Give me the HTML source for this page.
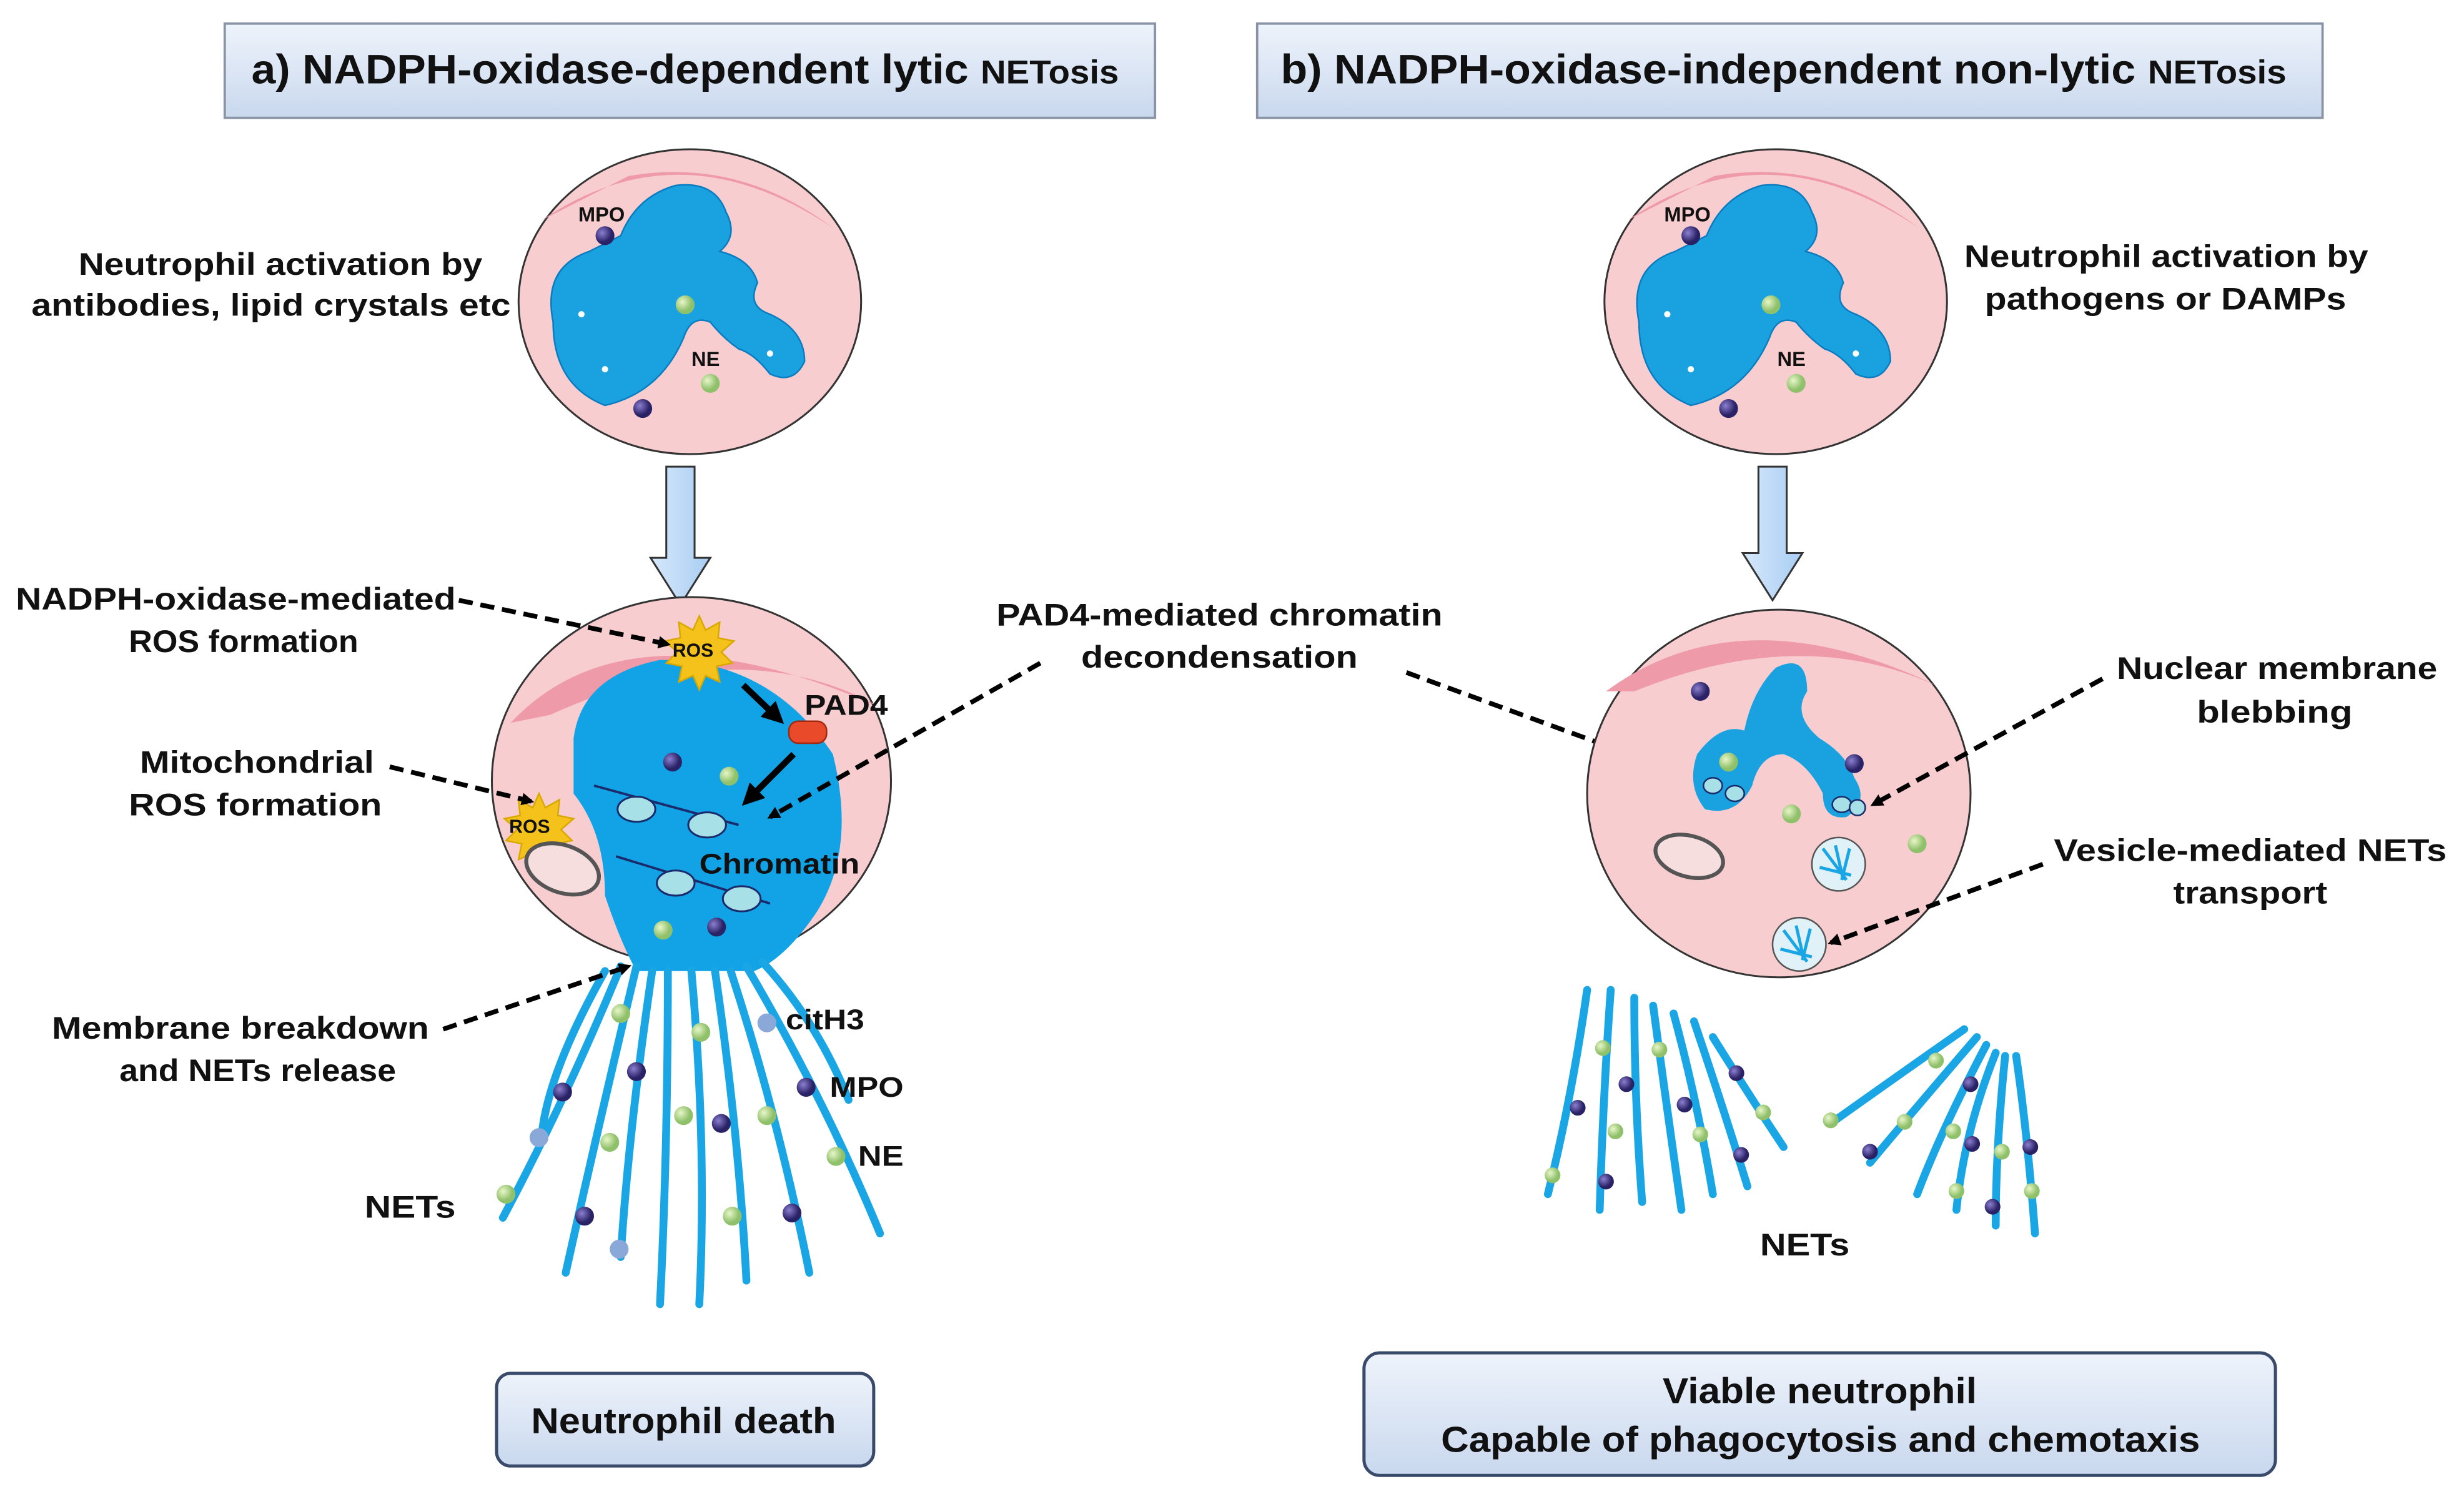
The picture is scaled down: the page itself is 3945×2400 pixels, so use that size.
<!DOCTYPE html>
<html><head><meta charset="utf-8"><style>
html,body{margin:0;padding:0;background:#fff;}
svg{display:block;}
text{font-family:"Liberation Sans",Arial,sans-serif;font-weight:bold;fill:#111;}
</style></head><body>
<svg width="3945" height="2400" viewBox="0 0 1568 954" preserveAspectRatio="none" xmlns="http://www.w3.org/2000/svg">
<defs>
<linearGradient id="tb" x1="0" y1="0" x2="0" y2="1"><stop offset="0" stop-color="#eef3fb"/><stop offset="1" stop-color="#c9d8ee"/></linearGradient>
<linearGradient id="ab" x1="0" y1="0" x2="1" y2="0"><stop offset="0" stop-color="#d6e8fb"/><stop offset="1" stop-color="#a9cdf3"/></linearGradient>
<marker id="ah" markerWidth="8" markerHeight="8" refX="6" refY="4" orient="auto" markerUnits="userSpaceOnUse"><path d="M0,0 L8,4 L0,8 z" fill="#000"/></marker>
<marker id="ah2" markerWidth="14" markerHeight="14" refX="10" refY="7" orient="auto" markerUnits="userSpaceOnUse"><path d="M0,0 L14,7 L0,14 z" fill="#000"/></marker>
<radialGradient id="gd" cx="0.35" cy="0.35"><stop offset="0" stop-color="#e8f6c8"/><stop offset="1" stop-color="#8fc06a"/></radialGradient>
<radialGradient id="pd" cx="0.35" cy="0.35"><stop offset="0" stop-color="#8c7fd0"/><stop offset="1" stop-color="#2a2266"/></radialGradient>
</defs>

<rect x="143" y="15" width="592" height="60" fill="url(#tb)" stroke="#8a93a3" stroke-width="1.5"/>
<text x="160" y="53" font-size="26" textLength="552" lengthAdjust="spacingAndGlyphs">a) NADPH-oxidase-dependent lytic <tspan font-size="21">NETosis</tspan></text>
<rect x="800" y="15" width="678" height="60" fill="url(#tb)" stroke="#8a93a3" stroke-width="1.5"/>
<text x="815" y="53" font-size="26" textLength="640" lengthAdjust="spacingAndGlyphs">b) NADPH-oxidase-independent non-lytic <tspan font-size="21">NETosis</tspan></text>

<g id="cellA">
<ellipse cx="439" cy="192" rx="109" ry="97" fill="#f7cdd0" stroke="#333" stroke-width="1.2"/>
<path d="M345,140 Q433,80 530,145 Q470,100 400,112 Z" fill="#ef9aa8"/>
<path d="M352,205 Q345,170 375,160 L395,150 Q405,125 430,118 Q455,115 462,135 Q470,150 458,160 Q478,165 482,180 Q475,195 490,200 Q512,210 512,230 Q505,245 490,238 Q480,225 470,222 Q460,215 452,205 Q440,200 435,215 Q420,250 385,258 Q352,245 352,205 Z" fill="#1aa2e0" stroke="#0c7cc0" stroke-width="1"/>
<circle cx="370" cy="200" r="2" fill="#fff"/><circle cx="385" cy="235" r="2" fill="#fff"/><circle cx="490" cy="225" r="2" fill="#fff"/>
<circle cx="385" cy="150" r="6" fill="url(#pd)"/><circle cx="409" cy="260" r="6" fill="url(#pd)"/>
<circle cx="436" cy="194" r="6" fill="url(#gd)"/><circle cx="452" cy="244" r="6" fill="url(#gd)"/>
<text x="368" y="141" font-size="13">MPO</text><text x="440" y="233" font-size="13">NE</text>
</g>
<use href="#cellA" transform="translate(691,0)"/>

<text x="50" y="175" font-size="20" textLength="257" lengthAdjust="spacingAndGlyphs">Neutrophil activation by</text>
<text x="20" y="201" font-size="20" textLength="305" lengthAdjust="spacingAndGlyphs">antibodies, lipid crystals etc</text>
<text x="1250" y="170" font-size="20" textLength="257" lengthAdjust="spacingAndGlyphs">Neutrophil activation by</text>
<text x="1263" y="197" font-size="20" textLength="230" lengthAdjust="spacingAndGlyphs">pathogens or DAMPs</text>

<path d="M424,297 L442,297 L442,355 L452,355 L433,385 L414,355 L424,355 Z" fill="url(#ab)" stroke="#333" stroke-width="1.2"/>
<path d="M1119,297 L1137,297 L1137,352 L1147,352 L1128,382 L1109,352 L1119,352 Z" fill="url(#ab)" stroke="#333" stroke-width="1.2"/>

<ellipse cx="440" cy="497" rx="127" ry="117" fill="#f7cdd0" stroke="#333" stroke-width="1.2"/>
<path d="M325,460 Q400,380 560,450 Q470,400 350,455 Z" fill="#ef9aa8"/>
<path d="M365,470 Q370,430 420,420 Q490,420 530,480 Q545,540 520,580 Q500,610 480,618 L405,618 Q395,600 385,570 Q385,530 365,505 Z" fill="#12a2e6"/>
<line x1="378" y1="500" x2="470" y2="525" stroke="#1a2a6a" stroke-width="1.5"/>
<line x1="392" y1="545" x2="490" y2="575" stroke="#1a2a6a" stroke-width="1.5"/>
<g fill="#a8e0e8" stroke="#1a2a6a" stroke-width="1.2">
<ellipse cx="405" cy="515" rx="12" ry="8"/><ellipse cx="450" cy="525" rx="12" ry="8"/>
<ellipse cx="430" cy="562" rx="12" ry="8"/><ellipse cx="472" cy="572" rx="12" ry="8"/></g>
<circle cx="428" cy="485" r="6" fill="url(#pd)"/><circle cx="464" cy="494" r="6" fill="url(#gd)"/>
<circle cx="422" cy="592" r="6" fill="url(#gd)"/><circle cx="456" cy="590" r="6" fill="url(#pd)"/>
<text x="445" y="556" font-size="18" textLength="102" lengthAdjust="spacingAndGlyphs">Chromatin</text>
<path d="M445,392 l4,9 9,-5 -1,10 10,2 -8,7 7,7 -10,2 2,10 -9,-4 -4,9 -4,-9 -9,4 2,-10 -10,-2 7,-7 -8,-7 10,-2 -1,-10 9,5z" fill="#f4c21a" stroke="#d9a800"/>
<text x="428" y="418" font-size="12">ROS</text>
<path d="M343,505 l4,9 9,-5 -1,10 10,2 -8,7 7,7 -10,2 2,10 -9,-4 -4,9 -4,-9 -9,4 2,-10 -10,-2 7,-7 -8,-7 10,-2 -1,-10 9,5z" fill="#f4c21a" stroke="#d9a800"/>
<text x="324" y="530" font-size="12">ROS</text>
<ellipse cx="358" cy="553" rx="24" ry="15" transform="rotate(20 358 553)" fill="#f7dede" stroke="#555" stroke-width="2.5"/>
<rect x="502" y="459" width="24" height="14" rx="6" fill="#e84a2a" stroke="#a02a10"/>
<text x="512" y="455" font-size="18" textLength="53" lengthAdjust="spacingAndGlyphs">PAD4</text>
<line x1="473" y1="436" x2="496" y2="458" stroke="#000" stroke-width="4" marker-end="url(#ah2)"/>
<line x1="505" y1="480" x2="475" y2="510" stroke="#000" stroke-width="4" marker-end="url(#ah2)"/>

<g stroke="#1aa6e4" stroke-width="5" fill="none" stroke-linecap="round">
<path d="M395,615 Q360,700 320,775"/><path d="M405,615 Q380,720 360,810"/><path d="M415,618 Q400,720 395,800"/>
<path d="M425,618 Q425,730 420,830"/><path d="M440,618 Q450,730 445,830"/><path d="M455,618 Q470,720 475,815"/>
<path d="M465,618 Q495,710 515,810"/><path d="M475,615 Q525,700 560,785"/><path d="M385,618 Q350,680 345,720"/>
<path d="M485,612 Q520,650 540,700"/>
</g>
<circle cx="395" cy="645" r="6" fill="url(#gd)"/><circle cx="446" cy="657" r="6" fill="url(#gd)"/>
<circle cx="405" cy="682" r="6" fill="url(#pd)"/><circle cx="358" cy="695" r="6" fill="url(#pd)"/>
<circle cx="435" cy="710" r="6" fill="url(#gd)"/><circle cx="459" cy="715" r="6" fill="url(#pd)"/>
<circle cx="488" cy="710" r="6" fill="url(#gd)"/><circle cx="388" cy="727" r="6" fill="url(#gd)"/>
<circle cx="343" cy="724" r="6" fill="#8aa8d8"/><circle cx="513" cy="692" r="6" fill="url(#pd)"/>
<circle cx="532" cy="736" r="6" fill="url(#gd)"/><circle cx="322" cy="760" r="6" fill="url(#gd)"/>
<circle cx="372" cy="774" r="6" fill="url(#pd)"/><circle cx="466" cy="774" r="6" fill="url(#gd)"/>
<circle cx="504" cy="772" r="6" fill="url(#pd)"/><circle cx="394" cy="795" r="6" fill="#8aa8d8"/>
<circle cx="488" cy="651" r="6" fill="#8aa8d8"/>
<text x="500" y="655" font-size="18" textLength="50" lengthAdjust="spacingAndGlyphs">citH3</text>
<text x="528" y="698" font-size="18" textLength="47" lengthAdjust="spacingAndGlyphs">MPO</text>
<text x="546" y="742" font-size="18" textLength="29" lengthAdjust="spacingAndGlyphs">NE</text>
<text x="232" y="775" font-size="20" textLength="58" lengthAdjust="spacingAndGlyphs">NETs</text>

<text x="10" y="388" font-size="20" textLength="280" lengthAdjust="spacingAndGlyphs">NADPH-oxidase-mediated</text>
<text x="82" y="415" font-size="20" textLength="146" lengthAdjust="spacingAndGlyphs">ROS formation</text>
<line x1="292" y1="382" x2="425" y2="410" stroke="#000" stroke-width="3" stroke-dasharray="9 5" marker-end="url(#ah)"/>
<text x="89" y="492" font-size="20" textLength="149" lengthAdjust="spacingAndGlyphs">Mitochondrial</text>
<text x="82" y="519" font-size="20" textLength="161" lengthAdjust="spacingAndGlyphs">ROS formation</text>
<line x1="248" y1="488" x2="338" y2="510" stroke="#000" stroke-width="3" stroke-dasharray="9 5" marker-end="url(#ah)"/>
<text x="33" y="661" font-size="20" textLength="240" lengthAdjust="spacingAndGlyphs">Membrane breakdown</text>
<text x="76" y="688" font-size="20" textLength="176" lengthAdjust="spacingAndGlyphs">and NETs release</text>
<line x1="282" y1="655" x2="400" y2="615" stroke="#000" stroke-width="3" stroke-dasharray="9 5" marker-end="url(#ah)"/>
<text x="634" y="398" font-size="20" textLength="284" lengthAdjust="spacingAndGlyphs">PAD4-mediated chromatin</text>
<text x="688" y="425" font-size="20" textLength="176" lengthAdjust="spacingAndGlyphs">decondensation</text>
<line x1="662" y1="422" x2="490" y2="520" stroke="#000" stroke-width="3" stroke-dasharray="9 5" marker-end="url(#ah)"/>
<line x1="895" y1="428" x2="1078" y2="495" stroke="#000" stroke-width="3" stroke-dasharray="9 5" marker-end="url(#ah)"/>

<ellipse cx="1132" cy="505" rx="122" ry="117" fill="#f7cdd0" stroke="#333" stroke-width="1.2"/>
<path d="M1022,440 Q1110,375 1240,440 Q1150,395 1040,440 Z" fill="#ef9aa8"/>
<path d="M1080,480 Q1095,460 1110,465 Q1115,440 1130,425 Q1150,415 1150,440 Q1140,455 1158,470 Q1175,480 1180,495 Q1190,510 1175,520 Q1160,522 1160,505 Q1150,485 1135,480 Q1120,480 1115,500 Q1105,520 1085,515 Q1073,500 1080,480 Z" fill="#1aa2e0"/>
<g fill="#a8e0e8" stroke="#1a2a6a" stroke-width="1"><ellipse cx="1090" cy="500" rx="6" ry="5"/><ellipse cx="1104" cy="505" rx="6" ry="5"/><ellipse cx="1172" cy="512" rx="6" ry="5"/><ellipse cx="1182" cy="514" rx="5" ry="5"/></g>
<circle cx="1082" cy="440" r="6" fill="url(#pd)"/><circle cx="1100" cy="485" r="6" fill="url(#gd)"/>
<circle cx="1140" cy="518" r="6" fill="url(#gd)"/><circle cx="1220" cy="537" r="6" fill="url(#gd)"/>
<circle cx="1180" cy="486" r="6" fill="url(#pd)"/>
<ellipse cx="1075" cy="545" rx="22" ry="13" transform="rotate(15 1075 545)" fill="#f7dede" stroke="#555" stroke-width="2.5"/>
<circle cx="1170" cy="550" r="17" fill="#e0f2f8" stroke="#555"/>
<circle cx="1145" cy="601" r="17" fill="#e0f2f8" stroke="#555"/>
<g stroke="#1aa6e4" stroke-width="2"><path d="M1160,540 l15,20 M1168,538 l5,22 M1177,540 l-5,20 M1158,552 l20,5"/><path d="M1135,592 l15,20 M1143,589 l5,22 M1152,591 l-5,20 M1133,604 l20,5"/></g>
<text x="1347" y="432" font-size="20" textLength="204" lengthAdjust="spacingAndGlyphs">Nuclear membrane</text>
<text x="1398" y="460" font-size="20" textLength="99" lengthAdjust="spacingAndGlyphs">blebbing</text>
<line x1="1338" y1="432" x2="1192" y2="512" stroke="#000" stroke-width="3" stroke-dasharray="9 5" marker-end="url(#ah)"/>
<text x="1307" y="548" font-size="20" textLength="250" lengthAdjust="spacingAndGlyphs">Vesicle-mediated NETs</text>
<text x="1383" y="575" font-size="20" textLength="98" lengthAdjust="spacingAndGlyphs">transport</text>
<line x1="1300" y1="550" x2="1165" y2="600" stroke="#000" stroke-width="3" stroke-dasharray="9 5" marker-end="url(#ah)"/>

<g stroke="#1aa6e4" stroke-width="5" fill="none" stroke-linecap="round">
<path d="M1010,630 Q1000,700 985,760"/><path d="M1025,630 Q1020,700 1018,770"/><path d="M1040,635 Q1040,700 1045,765"/>
<path d="M1052,640 Q1060,700 1070,770"/><path d="M1065,645 Q1080,700 1090,760"/><path d="M1078,650 Q1095,700 1112,755"/>
<path d="M1090,660 Q1115,700 1135,730"/>
<path d="M1250,655 Q1200,690 1165,715"/><path d="M1258,660 Q1215,710 1190,740"/><path d="M1264,665 Q1235,720 1220,760"/>
<path d="M1270,670 Q1250,720 1245,770"/><path d="M1276,672 Q1270,730 1270,780"/><path d="M1283,672 Q1290,720 1295,785"/>
</g>
<circle cx="1020" cy="667" r="5" fill="url(#gd)"/><circle cx="1035" cy="690" r="5" fill="url(#pd)"/>
<circle cx="1004" cy="705" r="5" fill="url(#pd)"/><circle cx="1028" cy="720" r="5" fill="url(#gd)"/>
<circle cx="1056" cy="668" r="5" fill="url(#gd)"/><circle cx="1072" cy="703" r="5" fill="url(#pd)"/>
<circle cx="1105" cy="683" r="5" fill="url(#pd)"/><circle cx="1122" cy="708" r="5" fill="url(#gd)"/>
<circle cx="1022" cy="752" r="5" fill="url(#pd)"/><circle cx="988" cy="748" r="5" fill="url(#gd)"/>
<circle cx="1082" cy="722" r="5" fill="url(#gd)"/><circle cx="1108" cy="735" r="5" fill="url(#pd)"/>
<circle cx="1165" cy="713" r="5" fill="url(#gd)"/><circle cx="1190" cy="733" r="5" fill="url(#pd)"/>
<circle cx="1212" cy="714" r="5" fill="url(#gd)"/><circle cx="1232" cy="675" r="5" fill="url(#gd)"/>
<circle cx="1243" cy="720" r="5" fill="url(#gd)"/><circle cx="1255" cy="728" r="5" fill="url(#pd)"/>
<circle cx="1274" cy="733" r="5" fill="url(#gd)"/><circle cx="1292" cy="730" r="5" fill="url(#pd)"/>
<circle cx="1245" cy="758" r="5" fill="url(#gd)"/><circle cx="1268" cy="768" r="5" fill="url(#pd)"/>
<circle cx="1293" cy="758" r="5" fill="url(#gd)"/><circle cx="1254" cy="690" r="5" fill="url(#pd)"/>
<text x="1120" y="799" font-size="20" textLength="57" lengthAdjust="spacingAndGlyphs">NETs</text>

<rect x="316" y="874" width="240" height="59" rx="9" fill="url(#tb)" stroke="#3a4a6a" stroke-width="2"/>
<text x="338" y="912" font-size="23" textLength="194" lengthAdjust="spacingAndGlyphs">Neutrophil death</text>
<rect x="868" y="861" width="580" height="78" rx="10" fill="url(#tb)" stroke="#3a4a6a" stroke-width="2"/>
<text x="1058" y="893" font-size="23" textLength="200" lengthAdjust="spacingAndGlyphs">Viable neutrophil</text>
<text x="917" y="924" font-size="23" textLength="483" lengthAdjust="spacingAndGlyphs">Capable of phagocytosis and chemotaxis</text>
</svg>
</body></html>
